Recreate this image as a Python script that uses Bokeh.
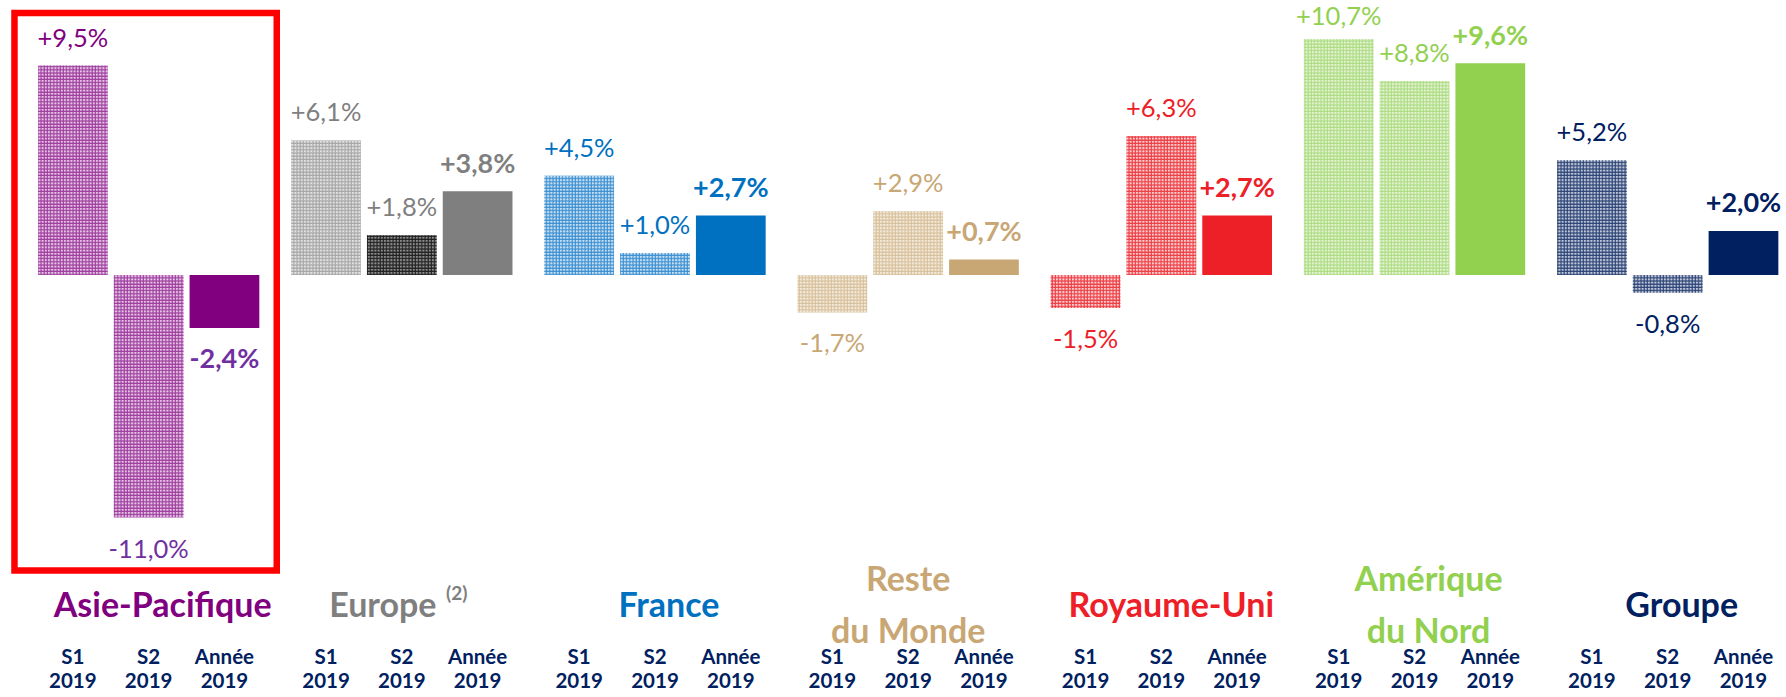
from bokeh.plotting import figure
from bokeh.models import ColumnDataSource, Range1d, BoxAnnotation
from bokeh.core.properties import value
from bokeh.embed import file_html
from bokeh.resources import INLINE

# ---------------- data ----------------
regions = ["Asie-Pacifique", "Europe", "France", "Reste\ndu Monde",
           "Royaume-Uni", "Amérique\ndu Nord", "Groupe"]
region_note = ["", "(2)", "", "", "", "", ""]
periods = ["S1\n2019", "S2\n2019", "Année\n2019"]
s1 = [9.5, 6.1, 4.5, -1.7, -1.5, 10.7, 5.2]
s2 = [-11.0, 1.8, 1.0, 2.9, 6.3, 8.8, -0.8]
annee = [-2.4, 3.8, 2.7, 0.7, 2.7, 9.6, 2.0]
highlight = 0  # Asie-Pacifique framed in red

# ---------------- styles ----------------
main_col = ["#800080", "#7F7F7F", "#0070C0", "#C9A775", "#ED2028", "#92D050", "#002060"]
pat_fill = ["#E6C3E6", "#E2E2E2", "#C7E0F4", "#F3EADB", "#FBD0D2", "#E3F3D3", "#C2C8D8"]
pat_hatch = ["#9C3C9C", "#A6A6A6", "#3B8ED0", "#D8C19C", "#EE3A41", "#AEDC83", "#2A4275"]
lbl_col = [["#800080", "#7030A0", "#7030A0"], ["#7F7F7F"] * 3, ["#0070C0"] * 3,
           ["#C9A775"] * 3, ["#ED2028"] * 3, ["#92D050"] * 3, ["#002060"] * 3]
name_shift = [14, -19, 14, 0, 10, 14, 14]   # px horizontal nudge of region names
GROUP = 334   # x-units between groups
BAR = 100     # x-units between bars
BW = 92       # bar width
FONT = "Lato"
TICK_COL = "#002060"

W, H = 1786, 697
PX_X = 0.758          # px per x-unit
PX_Y = 22.05          # px per percentage point
ZERO_Y = 274.5        # screen y of the zero line
X0 = 72.35            # screen x of the first bar centre
x_start = -X0 / PX_X
x_end = x_start + W / PX_X
y_end = ZERO_Y / PX_Y
y_start = y_end - H / PX_Y

def fmt(v):
    return ("%+.1f%%" % v).replace(".", ",")

px, ptop, pf, ph = [], [], [], []
sx, stop, sc = [], [], []
lx, ly, ltxt, lc, loff, lfs, lsz = [], [], [], [], [], [], []
tx, ttxt = [], []
for g in range(len(regions)):
    vals = [s1[g], s2[g], annee[g]]
    for j, v in enumerate(vals):
        x = g * GROUP + j * BAR
        tx.append(x); ttxt.append(periods[j])
        if j < 2:
            px.append(x); ptop.append(v)
            if g == 1 and j == 1:
                pf.append("#8C8C8C"); ph.append("#1E1E1E")
            else:
                pf.append(pat_fill[g]); ph.append(pat_hatch[g])
        else:
            sx.append(x); stop.append(v); sc.append(main_col[g])
        lx.append(x); ly.append(v); ltxt.append(fmt(v))
        lc.append(lbl_col[g][j])
        if v >= 0:
            bar_end_screen = ZERO_Y - v * PX_Y
            off = -min(29, bar_end_screen - 15)
        else:
            off = 30
        loff.append(off)
        lfs.append("bold" if j == 2 else "normal")
        lsz.append("27px" if j == 2 else "25.5px")

pat_src = ColumnDataSource(dict(x=px, top=ptop, fill=pf, hatch=ph))
sol_src = ColumnDataSource(dict(x=sx, top=stop, color=sc))
lab_src = ColumnDataSource(dict(x=lx, y=ly, text=ltxt, color=lc, yoff=loff, fs=lfs, sz=lsz))

NAME_Y = (ZERO_Y - 603) / PX_Y
TICK_Y = (ZERO_Y - 667) / PX_Y
name_x = [g * GROUP + BAR for g in range(len(regions))]
name_src = ColumnDataSource(dict(x=name_x, y=[NAME_Y] * len(regions), text=regions,
                                 color=main_col, xoff=name_shift))
note_idx = [g for g in range(len(regions)) if region_note[g]]
note_src = ColumnDataSource(dict(x=[name_x[g] for g in note_idx], y=[NAME_Y] * len(note_idx),
                                 text=[region_note[g] for g in note_idx],
                                 color=[main_col[g] for g in note_idx]))
tick_src = ColumnDataSource(dict(x=tx, y=[TICK_Y] * len(tx), text=ttxt))

p = figure(width=W, height=H, output_backend="svg", toolbar_location=None,
           x_range=Range1d(x_start, x_end), y_range=Range1d(y_start, y_end),
           min_border_left=0, min_border_right=0, min_border_top=0,
           min_border_bottom=0)
p.outline_line_color = None
p.grid.visible = False
p.xaxis.visible = False
p.yaxis.visible = False
p.background_fill_color = "white"
p.border_fill_color = "white"

p.vbar(x="x", top="top", bottom=0, width=BW, source=pat_src,
       fill_color="fill", line_color=None,
       hatch_pattern="cross", hatch_color="hatch", hatch_scale=3.2, hatch_weight=1.1)
p.vbar(x="x", top="top", bottom=0, width=BW, source=sol_src,
       fill_color="color", line_color=None)

p.text(x="x", y="y", text="text", source=lab_src, text_color="color",
       text_align="center", text_baseline="middle", y_offset="yoff",
       text_font=value(FONT), text_font_size="sz", text_font_style="fs")

p.text(x="x", y="y", text="text", source=name_src, text_color="color",
       x_offset="xoff", text_align="center", text_baseline="middle",
       text_font=value(FONT), text_font_size="34px", text_font_style="bold",
       text_line_height=1.27)
p.text(x="x", y="y", text="text", source=note_src, text_color="color",
       x_offset=55, y_offset=-11, text_align="center", text_baseline="middle",
       text_font=value(FONT), text_font_size="19px", text_font_style="bold")

# period labels under every bar
p.text(x="x", y="y", text="text", source=tick_src, text_color=TICK_COL,
       text_align="center", text_baseline="middle",
       text_font=value(FONT), text_font_size="20.5px", text_font_style="bold",
       text_line_height=1.0)

# red highlight frame around the first group
p.add_layout(BoxAnnotation(left=highlight * GROUP - BW / 2 - 31,
                           right=highlight * GROUP + 2 * BAR + BW / 2 + 23,
                           top=(ZERO_Y - 12.5) / PX_Y, bottom=(ZERO_Y - 570) / PX_Y,
                           fill_color=None, fill_alpha=0, line_color="#FF0000",
                           line_alpha=1.0, line_width=6.5, line_join="miter"))

open("out.html", "w").write(file_html(p, INLINE))
